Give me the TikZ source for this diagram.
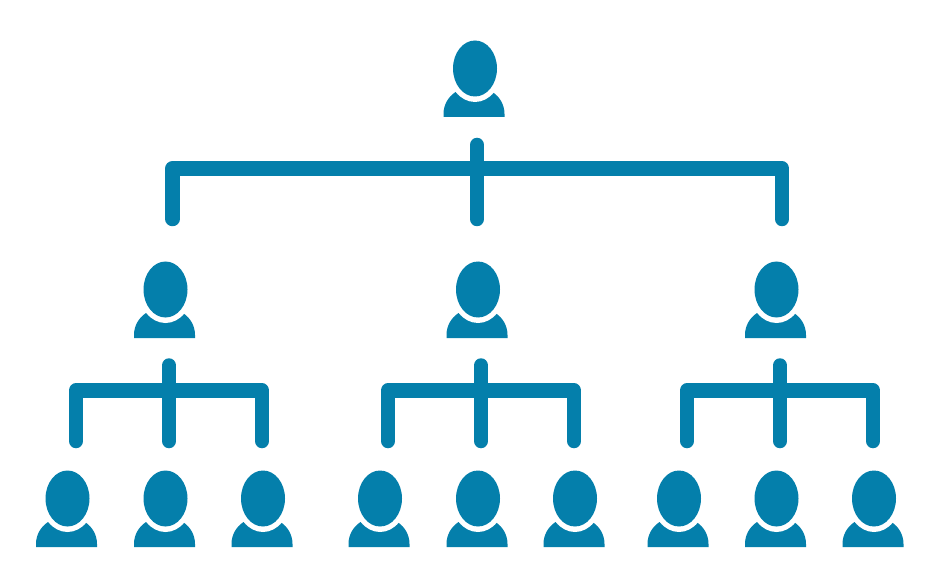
\documentclass[tikz,border=0pt]{standalone}
\definecolor{teal}{HTML}{047FAB}
\tikzset{
  wire/.style={draw=teal,line width=14.5pt,line cap=round,line join=round},
  person/.pic={
    \fill[teal] (-31,48.5) -- (-31,45.5) .. controls (-31,36.5) and (-26.5,28.5) .. (-19,23.5)
      -- (18,23.5) .. controls (25.5,28.5) and (30,36.5) .. (30,45.5) -- (30,48.5) -- cycle;
    \fill[white] (0.5,0) ellipse [x radius=27,y radius=33.5];
    \fill[teal] (0.5,0) ellipse [x radius=22,y radius=28];
  }
}
\begin{document}
\begin{tikzpicture}[x=1pt,y=-1pt]
\useasboundingbox (0,0) rectangle (940,588);
\pic (root) at (474.5,68.5) {person};
\foreach \n/\x in {a/165,b/477.5,c/776}{\pic (\n) at (\x,289.5) {person};}
\foreach \n/\x in {a1/67,a2/165,a3/262.5,b1/379.5,b2/477.5,b3/574.5,c1/678.5,c2/776,c3/873.5}{\pic (\n) at (\x,498.5) {person};}
% top bracket
\coordinate (t0) at (477,145);
\coordinate (tm) at (477,219);
\coordinate (tl) at (172.5,219);
\coordinate (tr) at (782,219);
\coordinate (tlc) at (172.5,168.5);
\coordinate (trc) at (782,168.5);
\draw[wire] (tl) -- (tlc) -- (trc) -- (tr);
\draw[wire] (t0) -- (tm);
% lower brackets
\foreach \k/\l/\m/\r in {a/76/169/262,b/388/481/574,c/687/780/873}{
  \coordinate (\k0) at (\m,365.5);
  \coordinate (\k m) at (\m,441);
  \coordinate (\k l) at (\l,441);
  \coordinate (\k r) at (\r,441);
  \coordinate (\k lc) at (\l,390.5);
  \coordinate (\k rc) at (\r,390.5);
  \draw[wire] (\k l) -- (\k lc) -- (\k rc) -- (\k r);
  \draw[wire] (\k0) -- (\k m);
}
\end{tikzpicture}
\end{document}
